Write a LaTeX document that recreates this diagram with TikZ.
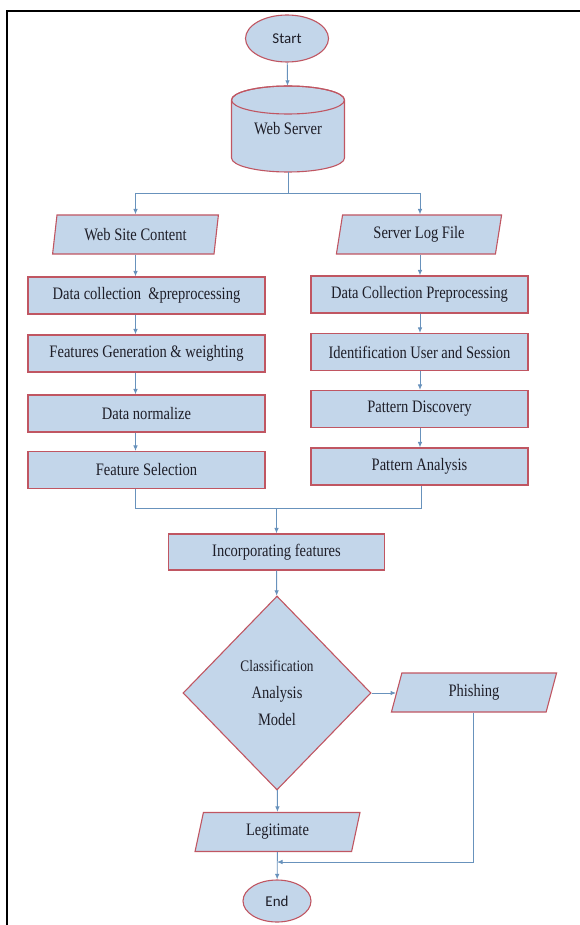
\documentclass[tikz,border=0pt]{standalone}
\usepackage{fontspec}
\setmainfont[FakeStretch=0.83]{Liberation Serif}
\newfontfamily\termfont{Carlito}
\usetikzlibrary{shapes,arrows.meta,positioning,calc}

\definecolor{boxfill}{RGB}{195,214,234}
\definecolor{boxline}{RGB}{192,86,98}
\definecolor{flowline}{RGB}{104,146,188}
\definecolor{txtcol}{RGB}{30,30,40}

\begin{document}
\begin{tikzpicture}[x=1pt, y=1pt,
    every node/.style={text=txtcol, font=\fontsize{17.5}{19}\selectfont},
    procbox/.style={rectangle, draw=boxline, fill=boxfill, line width=1.1pt, minimum height=37pt, inner sep=0pt},
    iobox/.style={trapezium, trapezium left angle=77, trapezium right angle=103, trapezium stretches=true,
                  draw=boxline, fill=boxfill, line width=1.1pt, minimum width=166pt, minimum height=39pt, inner sep=0pt},
    terminal/.style={ellipse, draw=boxline, fill=boxfill, line width=1.1pt, inner sep=0pt, font=\termfont\fontsize{15}{17}\selectfont},
    decision/.style={diamond, draw=boxline, fill=boxfill, line width=1.1pt, inner sep=0pt, align=center,
                     minimum width=188pt, minimum height=194pt, font=\fontsize{17.5}{27}\selectfont},
    link/.style={draw=flowline, line width=0.9pt},
    flow/.style={link, -{Latex[length=5.5pt,width=4.5pt]}}
  ]

  \useasboundingbox (0,0) rectangle (580,-925);

 %frame
  \draw[line width=1.8pt] (7,-925) -- (7,-11) -- (580,-11);

 %start + server
  \node[terminal, minimum width=83pt, minimum height=47pt] (start) at (287,-38.5) {Start};

  \path[fill=boxfill, draw=boxline, line width=1.1pt] (231.5,-100) -- (231.5,-158)
        arc[start angle=180, end angle=360, x radius=56.5, y radius=14] -- (344.5,-100)
        arc[start angle=0, end angle=180, x radius=56.5, y radius=14] -- cycle;
  \draw[boxline, line width=1.1pt] (288,-100) ellipse[x radius=56.5, y radius=14];
  \node[minimum width=113pt, minimum height=86pt, inner sep=0pt] (ws) at (288,-129) {\raisebox{-4pt}{Web Server}};

  \draw[flow] (start) -- (ws);

 %two inputs
  \node[iobox] (wsc) at (135.5,-234.5) {Web Site Content};
  \node[iobox] (slf) at (419,-234.5) {Server Log File};

  \coordinate (lcol) at (135.5,-193);
  \coordinate (rcol) at (420,-193);
  \draw[link] (ws.south) -- (ws.south |- lcol);
  \draw[link] (lcol) -- (rcol);
  \draw[flow] (lcol) -- (wsc.north -| lcol);
  \draw[flow] (rcol) -- (slf.north -| rcol);

 %left column
  \foreach \y/\txt/\name in {295.5/Data collection \ \&preprocessing/l1, 353.5/Features Generation \& weighting/l2,
                             413.5/Data normalize/l3, 470/Feature Selection/l4} {
      \node[procbox, minimum width=237pt] (\name) at (146.5,-\y) {\txt};
  }

 %right column
  \foreach \y/\txt/\name in {294.5/Data Collection Preprocessing/r1, 352/Identification User and Session/r2,
                             409/Pattern Discovery/r3, 466.5/Pattern Analysis/r4} {
      \node[procbox, minimum width=217pt] (\name) at (419.5,-\y) {\txt};
  }

  \foreach \a/\b in {wsc/l1, l1/l2, l2/l3, l3/l4} {
      \draw[flow] (\a.south -| lcol) -- (\b.north -| lcol);
  }
  \foreach \a/\b in {slf/r1, r1/r2, r2/r3, r3/r4} {
      \draw[flow] (\a.south -| rcol) -- (\b.north -| rcol);
  }

 %join
  \node[procbox, minimum width=216pt, minimum height=36pt] (inc) at (276.5,-552) {Incorporating features};

  \coordinate (joinl) at (135.5,-508);
  \coordinate (joinr) at (421,-508);
  \draw[link] (l4.south -| joinl) -- (joinl) -- (joinr) -- (r4.south -| joinr);
  \draw[flow] (inc.north |- joinl) -- (inc);

 %decision
  \node[decision] (cam) at (277,-693) {{\fontsize{16}{18}\selectfont Classification}\\ Analysis\\ Model};
  \draw[flow] (inc) -- (cam);

  \node[iobox] (phish) at (474,-692.5) {Phishing};
  \node[iobox] (legit) at (277.5,-832) {Legitimate};
  \node[terminal, minimum width=68pt, minimum height=42pt] (stop) at (277,-901) {End};

  \draw[flow] (cam.east) -- (cam.east -| phish.west);
  \draw[flow] (cam) -- (legit);
  \draw[flow] (legit) -- (stop);

  \coordinate (back) at (277,-862);
  \draw[flow] (phish.south -| 473,0) |- (back);

\end{tikzpicture}
\end{document}
